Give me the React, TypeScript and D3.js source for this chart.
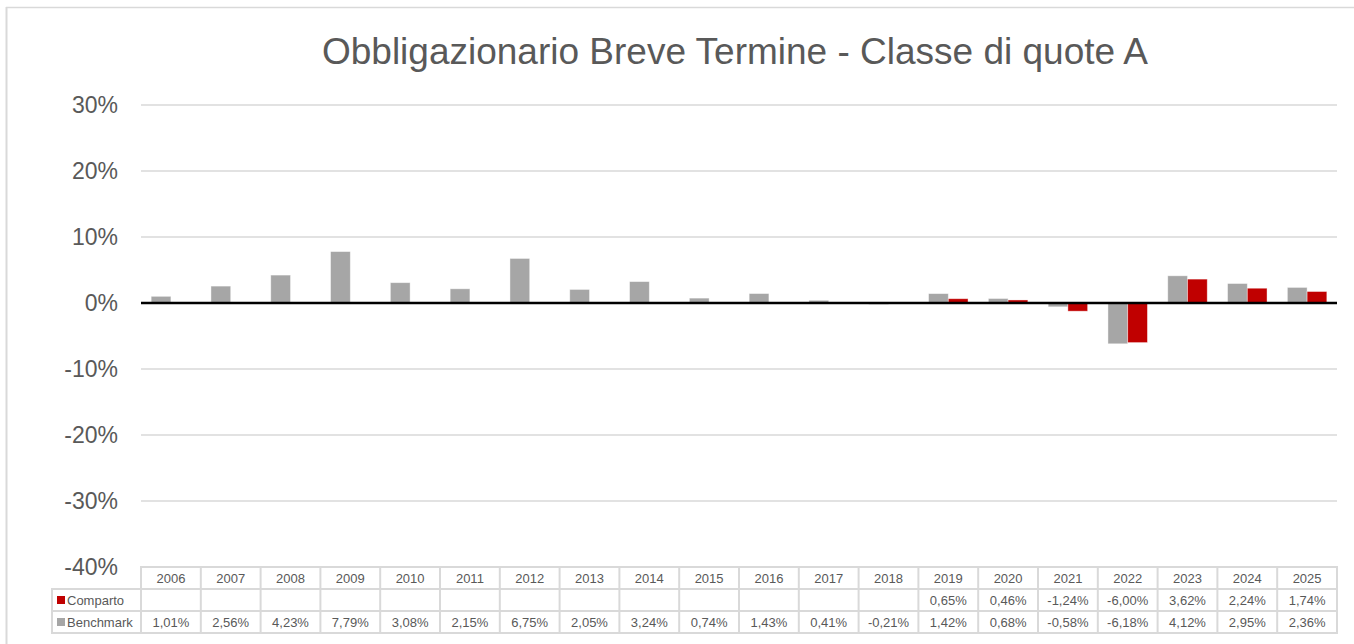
import React from "react";
import * as d3 from "d3";

const years = ["2006","2007","2008","2009","2010","2011","2012","2013","2014","2015","2016","2017","2018","2019","2020","2021","2022","2023","2024","2025"];
const benchmark = [1.01,2.56,4.23,7.79,3.08,2.15,6.75,2.05,3.24,0.74,1.43,0.41,-0.21,1.42,0.68,-0.58,-6.18,4.12,2.95,2.36];
const comparto: (number | null)[] = [null,null,null,null,null,null,null,null,null,null,null,null,null,0.65,0.46,-1.24,-6.00,3.62,2.24,1.74];
const yTicks = [30,20,10,0,-10,-20,-30,-40];
const series = [
  { name: "Comparto", color: "#c00000", values: comparto },
  { name: "Benchmark", color: "#a6a6a6", values: benchmark },
];

const W = 1354, H = 644;
const fmt = (v: number | null) => v == null ? "" : v.toFixed(2).replace(".", ",") + "%";

export default function App() {
  const x = d3.scaleBand().domain(years).range([141, 1337]).padding(0);
  const bw = x.bandwidth();
  const x1 = d3.scaleBand().domain(["Benchmark","Comparto"]).range([bw * 0.17, bw * 0.83]).padding(0);
  const y = d3.scaleLinear().domain([-40, 30]).range([567, 105]);
  const rowH = 22;
  const tableTop = 567;
  const legendLeft = 52;
  const textCol = "#595959";
  const border = "#d9d9d9";

  return (
    <svg width={W} height={H} style={{ position: "absolute", left: 0, top: 0, background: "#fff", fontFamily: "Liberation Sans, Arial, sans-serif" }}>
      {/* frame */}
      <line x1={6} x2={W} y1={7.5} y2={7.5} stroke={border} strokeWidth={1.5} />
      <line x1={6.5} x2={6.5} y1={7} y2={H} stroke={border} strokeWidth={2} />

      <text x={735} y={64} textAnchor="middle" fontSize={37} fill={textCol}>
        Obbligazionario Breve Termine - Classe di quote A
      </text>

      {/* grid + y labels */}
      {yTicks.map(t => (
        <g key={t}>
          {t !== 0 && t !== -40 && (
            <line x1={141} x2={1337} y1={y(t)} y2={y(t)} stroke={border} strokeWidth={1.5} />
          )}
          <text x={118} y={y(t) + 8} textAnchor="end" fontSize={23} fill={textCol}>{t}%</text>
        </g>
      ))}

      {/* bars */}
      {years.map((yr, i) => (
        <g key={yr} transform={`translate(${x(yr)},0)`}>
          {[
            { key: "Benchmark", v: benchmark[i], c: "#a6a6a6" },
            { key: "Comparto", v: comparto[i], c: "#c00000" },
          ].map(b => b.v == null ? null : (
            <rect key={b.key}
              x={x1(b.key)!}
              y={Math.min(y(b.v), y(0))}
              width={x1.bandwidth()}
              height={Math.abs(y(b.v) - y(0))}
              fill={b.c}
              stroke="#ffffff" strokeOpacity={0.5} strokeWidth={0.8} />
          ))}
        </g>
      ))}

      {/* zero line */}
      <line x1={141} x2={1337} y1={y(0)} y2={y(0)} stroke="#000" strokeWidth={2.5} />

      {/* data table */}
      <g stroke={border} strokeWidth={2} fill="none">
        <rect x={141} y={tableTop} width={1337 - 141} height={rowH * 3} />
        <rect x={legendLeft} y={tableTop + rowH} width={141 - legendLeft} height={rowH * 2} />
        <line x1={legendLeft} x2={1337} y1={tableTop + rowH} y2={tableTop + rowH} />
        <line x1={legendLeft} x2={1337} y1={tableTop + rowH * 2} y2={tableTop + rowH * 2} />
        {years.slice(1).map(yr => (
          <line key={yr} x1={x(yr)} x2={x(yr)} y1={tableTop} y2={tableTop + rowH * 3} />
        ))}
      </g>
      {years.map(yr => (
        <text key={yr} x={x(yr)! + bw / 2} y={tableTop + 16} textAnchor="middle" fontSize={13} fill={textCol}>{yr}</text>
      ))}
      {series.map((s, r) => (
        <g key={s.name}>
          <rect x={legendLeft + 5} y={tableTop + rowH * (r + 1) + 7} width={8} height={8} fill={s.color} />
          <text x={legendLeft + 15} y={tableTop + rowH * (r + 1) + 16} fontSize={13} fill={textCol}>{s.name}</text>
          {years.map((yr, i) => (
            <text key={yr} x={x(yr)! + bw / 2} y={tableTop + rowH * (r + 1) + 16} textAnchor="middle" fontSize={13} fill={textCol}>
              {fmt(s.values[i])}
            </text>
          ))}
        </g>
      ))}
    </svg>
  );
}
